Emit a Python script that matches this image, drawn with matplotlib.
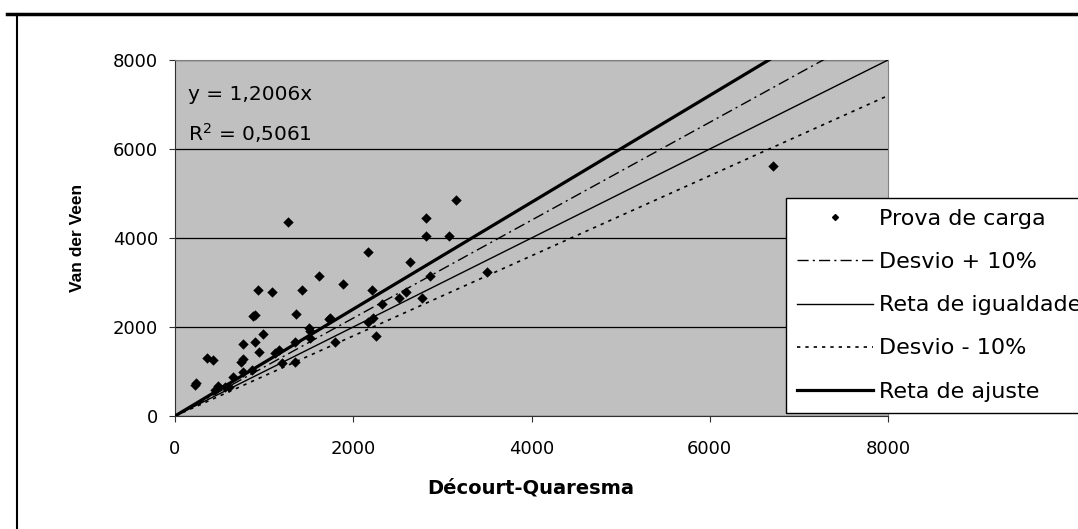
import numpy as np
import matplotlib
matplotlib.use("Agg")
import matplotlib.pyplot as plt
from matplotlib.lines import Line2D

plt.rcParams['font.family'] = ['DejaVu Sans']
plt.rcParams['mathtext.fontset'] = 'dejavusans'

# Prova de carga : Décourt-Quaresma (x) x Van der Veen (y)
dq = [220, 240, 355, 430, 449, 486, 561, 610, 654, 740, 767, 767, 860,
      767, 901, 946, 991, 880, 900, 930, 1085, 1122, 1170, 1197, 1264,
      1346, 1346, 1354, 1421, 1507, 1515, 1515, 1620, 1732, 1740, 1799,
      1889, 2162, 2162, 2207, 2225, 2252, 2319, 2517, 2589, 2633, 2768,
      2813, 2813, 2861, 3078, 3149, 3504, 6714]
vdv = [700, 740, 1300, 1250, 590, 676, 647, 650, 886, 1210, 1277, 998, 1036,
       1615, 1668, 1435, 1848, 2238, 2265, 2840, 2787, 1413, 1472, 1202, 4365,
       1660, 1224, 2295, 2832, 1976, 1900, 1750, 3155, 2178, 2210, 1652,
       2967, 3689, 2111, 2832, 2201, 1788, 2516, 2652, 2787, 3464, 2652,
       4455, 4041, 3140, 4041, 4861, 3238, 5617]

# retas de referência
x_reta = [0, 8000]
coef_mais = 1.1
coef_igual = 1.0
coef_menos = 0.9
coef_ajuste = 1.2006
eq_texto = "y = 1,2006x"
r2_texto = "R$^2$ = 0,5061"

ticks = [0, 2000, 4000, 6000, 8000]

fig = plt.figure(figsize=(10.78, 5.29), dpi=100)
ax = fig.add_axes([175/1078, 1 - 416/529, 713/1078, 356/529])
ax.set_facecolor('#C0C0C0')

xr = np.array(x_reta, dtype=float)
ax.plot(xr, coef_mais*xr, color='black', lw=1.0, dashes=(8, 3, 1.5, 3), zorder=3)
ax.plot(xr, coef_igual*xr, color='black', lw=1.0, zorder=3)
ax.plot(xr, coef_menos*xr, color='black', lw=1.2, dashes=(2, 3), zorder=3)
ax.plot(xr, coef_ajuste*xr, color='black', lw=2.3, zorder=3)
ax.scatter(dq, vdv, marker='D', s=28, color='black', lw=0, zorder=4)

ax.set_xlim(0, 8000)
ax.set_ylim(0, 8000)
ax.set_xticks(ticks)
ax.set_yticks(ticks)
ax.tick_params(direction='out', length=4.5, width=0.8, labelsize=13, colors='#303030',
               labelcolor='black')
ax.tick_params(axis='y', pad=7.5)
ax.tick_params(axis='x', pad=13)
ax.yaxis.grid(True, color='black', lw=0.9)
ax.set_axisbelow(True)
for s in ['top', 'right']:
    ax.spines[s].set_color('#808080')
for s in ['left', 'bottom']:
    ax.spines[s].set_color('#303030')

fig.text(531/1078, 1 - 493/529, "Décourt-Quaresma", fontsize=14, fontweight='bold',
         ha='center', va='baseline')
fig.text(78/1078, 1 - 238/529, "Van der Veen", fontsize=12.5, fontweight='bold',
         family='Liberation Sans', rotation=90, ha='center', va='center')

fig.text(188/1078, 1 - 94/529, eq_texto, fontsize=14.5, va='center', ha='left')
fig.text(188/1078, 1 - 133/529, r2_texto, fontsize=14.5, va='center', ha='left')

handles = [
    Line2D([], [], ls='none', marker='D', ms=3, color='black'),
    Line2D([], [], color='black', lw=1.0, dashes=(8, 3, 1.5, 3)),
    Line2D([], [], color='black', lw=1.0),
    Line2D([], [], color='black', lw=1.2, dashes=(2, 3)),
    Line2D([], [], color='black', lw=2.3),
]
labels = ["Prova de carga", "Desvio + 10%", "Reta de igualdade",
          "Desvio - 10%", "Reta de ajuste"]
leg = ax.legend(handles, labels, loc='upper left',
                bbox_to_anchor=(786/1078, 1 - 198/529), bbox_transform=fig.transFigure,
                borderaxespad=0, fontsize=16, fancybox=False, framealpha=1,
                edgecolor='black', handlelength=3.4, handletextpad=0.3,
                labelspacing=1.04, borderpad=0.5)
leg.get_frame().set_linewidth(1.0)

# moldura do gráfico (cortada)
fig.add_artist(Line2D([7/1078, 1], [1 - 14/529, 1 - 14/529], color='black', lw=2.5,
                      transform=fig.transFigure))
fig.add_artist(Line2D([17/1078, 17/1078], [0, 1 - 14/529], color='black', lw=1.5,
                      transform=fig.transFigure))

fig.savefig("out.png", dpi=100)
